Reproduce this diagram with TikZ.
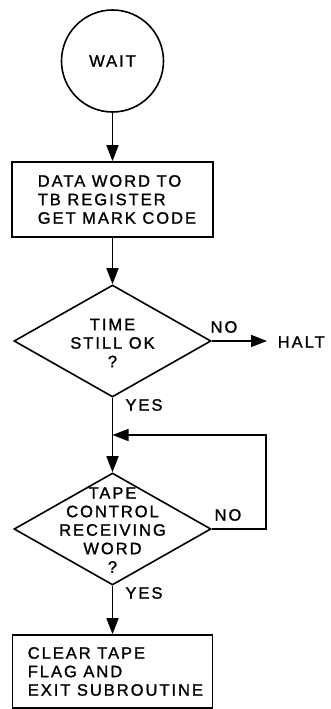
\documentclass[tikz,border=0pt]{standalone}
\usepackage{fontspec}
\setmainfont{Liberation Sans}[LetterSpace=12,FakeBold=1.3]
\usetikzlibrary{shapes.geometric,arrows.meta}
\begin{document}
\begin{tikzpicture}[x=1pt,y=-1pt,
  line width=1.6pt,
  every node/.style={font=\fontsize{16.5}{18.5}\selectfont},
  flow/.style={-{Triangle[length=16pt,width=12pt]}},
  boxshape/.style={draw,rectangle,inner sep=0pt},
  dia/.style={draw,diamond,inner sep=0pt,minimum width=197pt,minimum height=112pt},
  txt/.style={inner sep=0pt,align=center},
  ltxt/.style={inner sep=0pt,align=left,anchor=west}]
\useasboundingbox (0,0) rectangle (330,709);
\node[draw,circle,minimum size=102pt,inner sep=0pt] (wait) at (112.5,61) {WAIT};
\node[boxshape,minimum width=201pt,minimum height=75pt] (box1) at (112.5,199.5) {};
\node[ltxt] (t1) at (37,199.5) {DATA WORD TO\\TB REGISTER\\GET MARK CODE};
\node[dia] (d1) at (112.5,341) {};
\node[txt] (t2) at (112.5,343) {TIME\\STILL OK\\?};
\node[txt] (no1) at (224,327) {NO};
\node[txt,anchor=west] (halt) at (277,342) {HALT};
\coordinate (h) at (267,341);
\node[txt] (yes1) at (144,405) {YES};
\coordinate (j) at (112.5,435);
\node[dia] (d2) at (112.5,529) {};
\node[txt] (t3) at (112.5,530) {TAPE\\CONTROL\\RECEIVING\\WORD\\?};
\node[txt] (no2) at (228,515) {NO};
\node[txt] (yes2) at (144,593) {YES};
\node[boxshape,minimum width=200pt,minimum height=73pt] (box2) at (112.5,671.5) {};
\node[ltxt] (t4) at (27,671.5) {CLEAR TAPE\\FLAG AND\\EXIT SUBROUTINE};
\draw[flow] (wait.south) -- (box1.north);
\draw[flow] (box1.south) -- (d1.north);
\draw[flow] (d1.east) -- (h);
\draw (d1.south) -- (j);
\draw[flow] (j) -- (d2.north);
\draw[flow] (d2.east) -- ++(54,0) |- (j);
\draw[flow] (d2.south) -- (box2.north);
\end{tikzpicture}
\end{document}
